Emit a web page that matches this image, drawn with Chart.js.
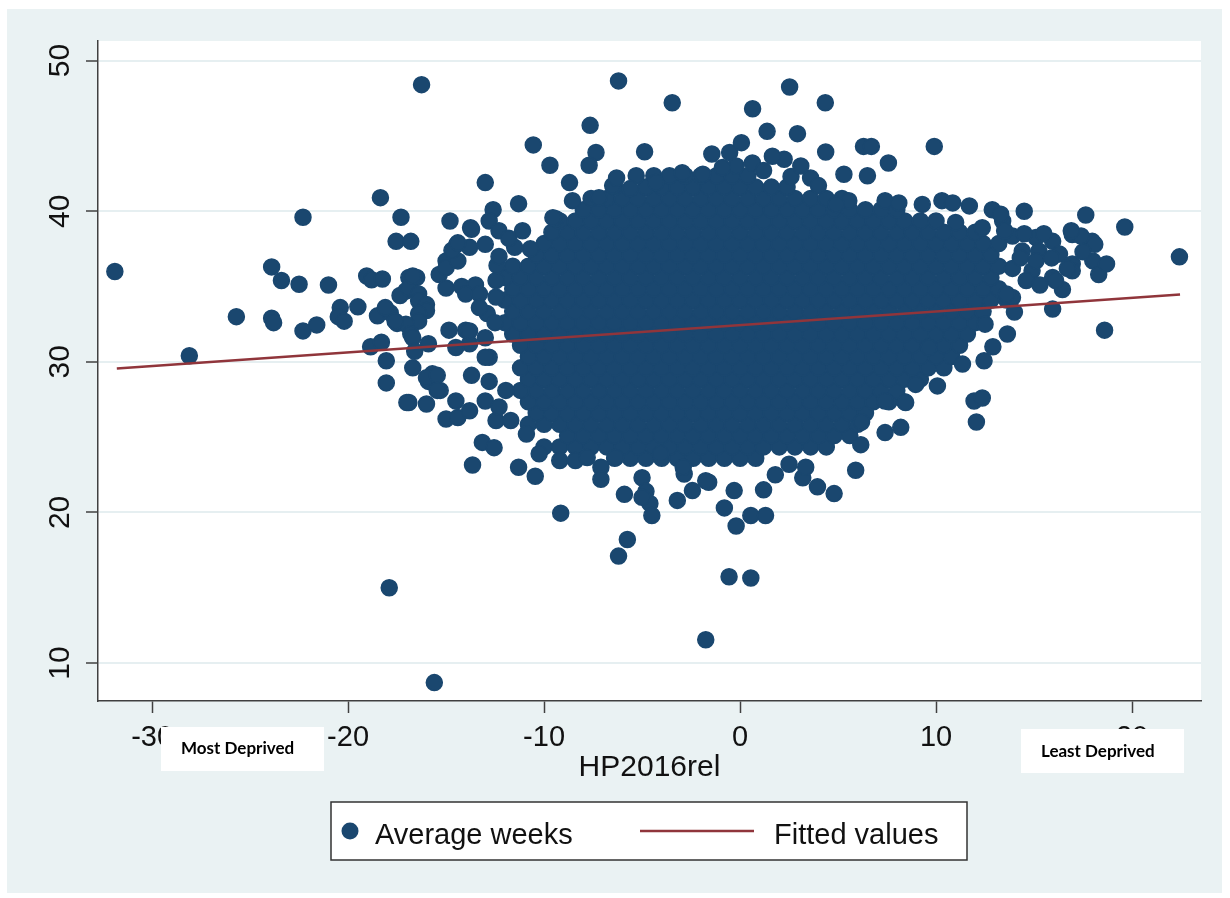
<!DOCTYPE html>
<html>
<head>
<meta charset="utf-8">
<script src="https://cdn.jsdelivr.net/npm/chart.js@4/dist/chart.umd.min.js"></script>
<style>
  html, body { margin: 0; padding: 0; background: #fff; }
  #wrap { width: 1230px; height: 898px; }
</style>
</head>
<body>
<div id="wrap"><canvas id="chart" width="1230" height="898"></canvas></div>
<script>
const navy = '#1a476f'
const maroon = '#90353b'

const xTicks = [-30, -20, -10, 0, 10, 20]
const yTicks = [10, 20, 30, 40, 50]

// scattered points round the cloud, [HP2016rel, average weeks]
const edgePoints = [
  [-31.9, 36.0], [-28.1, 30.4], [-25.7, 33.0], [-23.9, 36.3], [-23.4, 35.4], [-23.9, 32.9], [-23.8, 32.6],
  [-22.3, 39.6], [-22.5, 35.15], [-22.3, 32.05], [-21.6, 32.45], [-21.0, 35.1], [-20.4, 33.6], [-20.5, 33.0],
  [-20.2, 32.7], [-19.5, 33.65], [-19.05, 35.7], [-18.8, 35.45], [-18.35, 40.9], [-18.85, 31.0], [-18.3, 31.3],
  [-18.05, 30.07], [-18.05, 28.6], [-18.5, 33.05], [-17.85, 33.25], [-17.5, 32.55], [-17.3, 39.6], [-17.55, 38.0],
  [-16.8, 38.0], [-16.9, 27.3], [-16.9, 35.6], [-16.5, 35.6], [-16.25, 48.4], [-14.8, 39.35], [-13.0, 41.9],
  [-11.3, 40.5], [-10.55, 44.4], [-9.7, 43.05], [-8.7, 41.9], [-7.65, 45.7], [-7.35, 43.9], [-7.7, 43.05],
  [-6.2, 48.65], [-9.4, 39.5], [-13.75, 38.9], [-12.6, 40.1], [-14.45, 37.8],
  // left side of the cloud
  [-18.25, 35.5], [-18.1, 33.6], [-17.05, 34.7], [-17.35, 34.4], [-16.9, 34.9], [-16.4, 34.5], [-16.4, 34.05],
  [-16.0, 33.8], [-16.0, 33.4], [-16.4, 33.2], [-16.4, 32.7], [-17.05, 32.5], [-17.6, 32.7], [-16.8, 31.85],
  [-16.7, 31.6], [-16.6, 30.7], [-16.7, 29.6], [-15.9, 31.2], [-15.9, 28.7], [-15.3, 28.1], [-15.7, 29.2],
  [-16.0, 28.95], [-15.45, 29.1], [-17.0, 27.3], [-16.0, 27.2], [-15.45, 28.1], [-15.0, 26.2], [-14.4, 26.3],
  [-14.5, 27.4], [-13.8, 26.75], [-13.7, 29.1], [-13.15, 24.65], [-12.55, 24.3], [-13.65, 23.15], [-13.0, 27.4],
  [-12.45, 26.1], [-11.7, 26.1], [-12.3, 27.0], [-11.95, 28.1], [-12.8, 30.3], [-12.8, 28.7], [-13.0, 30.3],
  [-13.0, 31.6], [-13.8, 31.2], [-14.5, 30.95], [-14.0, 32.1], [-14.85, 32.1], [-13.8, 32.05],
  [-15.0, 36.7], [-15.35, 35.8], [-16.7, 35.7], [-15.0, 36.25], [-14.4, 36.7], [-15.0, 34.9], [-14.2, 35.0],
  [-13.5, 35.1], [-14.0, 34.5], [-13.3, 34.5], [-12.45, 34.3], [-12.45, 35.4], [-12.4, 36.4], [-12.3, 37.0],
  [-14.7, 37.4], [-13.8, 37.6], [-13.0, 37.8], [-14.4, 37.9], [-13.7, 38.8], [-12.8, 39.35], [-12.3, 38.7],
  [-11.1, 38.7], [-10.7, 37.5], [-11.5, 37.6], [-11.8, 38.2], [-12.9, 33.2], [-12.5, 32.6], [-13.3, 33.6],
  // lower edge
  [-11.3, 23.0], [-10.9, 25.2], [-10.45, 22.4], [-10.25, 23.9], [-9.2, 23.45], [-8.4, 23.45], [-7.8, 23.65],
  [-9.15, 19.95], [-7.1, 23.0], [-7.1, 22.2], [-6.35, 23.65], [-5.9, 21.2], [-5.0, 22.3], [-4.8, 21.4],
  [-4.6, 20.6], [-4.5, 19.8], [-5.75, 18.2], [-6.2, 17.1], [-17.9, 15.0], [-15.6, 8.7], [-0.56, 15.73],
  [-3.2, 20.8], [-2.85, 22.55], [-2.43, 21.45], [-1.6, 22.0], [-0.8, 20.3], [-0.3, 21.45], [-0.2, 19.1],
  [-4.05, 23.9], [-1.75, 11.55], [-1.75, 22.1], [-2.9, 23.0], [-5.0, 21.0],
  [12.45, 30.07], [10.07, 28.4], [8.96, 28.5], [11.35, 29.85], [11.94, 27.4], [12.36, 27.6], [12.06, 26.0],
  [8.2, 25.65], [7.4, 25.3], [6.16, 24.5], [5.9, 22.8], [4.8, 21.25], [3.95, 21.7], [0.55, 19.8], [1.3, 19.8],
  [0.55, 15.65], [1.8, 22.5], [3.2, 22.3], [1.2, 21.5], [7.4, 27.4], [8.45, 27.3], [6.2, 26.0], [2.5, 23.2],
  [3.35, 23.0], [9.64, 30.95],
  // upper edge and top outliers
  [-3.46, 47.2], [2.53, 48.25], [0.64, 46.8], [4.35, 47.2], [1.38, 45.3], [2.93, 45.15], [-4.87, 43.95],
  [4.37, 43.93], [6.3, 44.3], [6.7, 44.3], [9.91, 44.3], [7.57, 43.2], [-1.44, 43.8], [-0.53, 43.9], [0.07, 44.55],
  [-9.55, 39.57], [-8.55, 40.7], [-7.2, 40.9], [-6.5, 41.7], [-5.3, 42.35], [-4.3, 41.9], [-2.95, 42.55],
  [-1.9, 42.45], [-0.2, 43.0], [-6.3, 42.2], [-5.6, 41.5],
  [5.3, 42.45], [6.5, 42.35], [3.6, 42.2], [2.25, 43.45], [0.63, 43.2], [1.65, 43.65], [4.0, 41.7], [5.55, 40.7],
  [4.9, 40.45], [7.4, 40.7], [8.1, 40.55], [9.3, 40.45], [10.3, 40.7], [10.85, 40.55], [11.7, 40.35],
  [12.87, 40.1], [13.4, 39.35], [14.5, 40.0], [17.64, 39.75], [12.36, 38.9], [11.0, 39.25], [2.6, 42.3],
  [1.2, 42.7], [-0.9, 42.9], [3.1, 43.0],
  // right tail
  [13.9, 38.35], [15.1, 38.25], [15.95, 38.0], [16.95, 38.45], [17.97, 38.0], [14.4, 37.35], [15.25, 37.35],
  [16.3, 37.15], [16.95, 36.5], [18.0, 36.7], [14.9, 36.05], [15.95, 35.6], [16.95, 36.05], [16.45, 34.8],
  [13.9, 34.27], [15.95, 33.5], [13.64, 31.85], [18.3, 35.8], [18.6, 32.1], [19.63, 38.95], [22.42, 36.97],
  [18.7, 36.5], [18.1, 37.8], [17.4, 38.35], [13.5, 38.7], [14.5, 38.5], [15.5, 38.5], [16.9, 38.7],
  [13.9, 36.2], [15.1, 36.7], [15.9, 36.9], [16.7, 36.2], [13.3, 39.8], [16.1, 35.4], [13.6, 34.5],
  [14.3, 36.9], [14.6, 35.4], [15.3, 35.1], [17.5, 37.3], [14.0, 33.3], [12.5, 32.5], [12.9, 31.0]
]

// the solid middle of the cloud, read row by row (y value, then x values)
const coreRowY = [23.6, 24.35, 25.1, 25.85, 26.6, 27.35, 28.1, 28.85, 29.6, 30.35, 31.1, 31.85, 32.6,
  33.35, 34.1, 34.85, 35.6, 36.35, 37.1, 37.85, 38.6, 39.35, 40.1, 40.85, 41.6, 42.35]
const coreRowX = [
  [-6.4, -5.6, -4.8, -4.0, -3.2, -2.4, -1.6, -0.8, 0, 0.8],
  [-10.0, -9.2, -8.4, -7.6, -6.8, -6.0, -5.2, -4.4, -3.6, -2.8, -2.0, -1.2, -0.4, 0.4, 1.2, 2.0, 2.8, 3.6, 4.4],
  [-8.8, -8.0, -7.2, -6.4, -5.6, -4.8, -4.0, -3.2, -2.4, -1.6, -0.8, 0, 0.8, 1.6, 2.4, 3.2, 4.0, 4.8, 5.6],
  [-10.8, -10.0, -9.2, -8.4, -7.6, -6.8, -6.0, -5.2, -4.4, -3.6, -2.8, -2.0, -1.2, -0.4, 0.4, 1.2, 2.0, 2.8, 3.6, 4.4, 5.2, 6.0],
  [-10.4, -9.6, -8.8, -8.0, -7.2, -6.4, -5.6, -4.8, -4.0, -3.2, -2.4, -1.6, -0.8, 0, 0.8, 1.6, 2.4, 3.2, 4.0, 4.8, 5.6, 6.4],
  [-10.8, -10.0, -9.2, -8.4, -7.6, -6.8, -6.0, -5.2, -4.4, -3.6, -2.8, -2.0, -1.2, -0.4, 0.4, 1.2, 2.0, 2.8, 3.6, 4.4, 5.2, 6.0, 6.8, 7.6, 8.4],
  [-11.2, -10.4, -9.6, -8.8, -8.0, -7.2, -6.4, -5.6, -4.8, -4.0, -3.2, -2.4, -1.6, -0.8, 0, 0.8, 1.6, 2.4, 3.2, 4.0, 4.8, 5.6, 6.4, 7.2, 8.0],
  [-10.8, -10.0, -9.2, -8.4, -7.6, -6.8, -6.0, -5.2, -4.4, -3.6, -2.8, -2.0, -1.2, -0.4, 0.4, 1.2, 2.0, 2.8, 3.6, 4.4, 5.2, 6.0, 6.8, 7.6, 8.4, 9.2],
  [-11.2, -10.4, -9.6, -8.8, -8.0, -7.2, -6.4, -5.6, -4.8, -4.0, -3.2, -2.4, -1.6, -0.8, 0, 0.8, 1.6, 2.4, 3.2, 4.0, 4.8, 5.6, 6.4, 7.2, 8.0, 8.8, 9.6, 10.4],
  [-10.8, -10.0, -9.2, -8.4, -7.6, -6.8, -6.0, -5.2, -4.4, -3.6, -2.8, -2.0, -1.2, -0.4, 0.4, 1.2, 2.0, 2.8, 3.6, 4.4, 5.2, 6.0, 6.8, 7.6, 8.4, 9.2, 10.0, 10.8],
  [-11.2, -10.4, -9.6, -8.8, -8.0, -7.2, -6.4, -5.6, -4.8, -4.0, -3.2, -2.4, -1.6, -0.8, 0, 0.8, 1.6, 2.4, 3.2, 4.0, 4.8, 5.6, 6.4, 7.2, 8.0, 8.8, 9.6, 10.4, 11.2],
  [-11.6, -10.8, -10.0, -9.2, -8.4, -7.6, -6.8, -6.0, -5.2, -4.4, -3.6, -2.8, -2.0, -1.2, -0.4, 0.4, 1.2, 2.0, 2.8, 3.6, 4.4, 5.2, 6.0, 6.8, 7.6, 8.4, 9.2, 10.0, 10.8, 11.6],
  [-12.0, -11.2, -10.4, -9.6, -8.8, -8.0, -7.2, -6.4, -5.6, -4.8, -4.0, -3.2, -2.4, -1.6, -0.8, 0, 0.8, 1.6, 2.4, 3.2, 4.0, 4.8, 5.6, 6.4, 7.2, 8.0, 8.8, 9.6, 10.4, 11.2, 12.0],
  [-11.6, -10.8, -10.0, -9.2, -8.4, -7.6, -6.8, -6.0, -5.2, -4.4, -3.6, -2.8, -2.0, -1.2, -0.4, 0.4, 1.2, 2.0, 2.8, 3.6, 4.4, 5.2, 6.0, 6.8, 7.6, 8.4, 9.2, 10.0, 10.8, 11.6, 12.4],
  [-12.0, -11.2, -10.4, -9.6, -8.8, -8.0, -7.2, -6.4, -5.6, -4.8, -4.0, -3.2, -2.4, -1.6, -0.8, 0, 0.8, 1.6, 2.4, 3.2, 4.0, 4.8, 5.6, 6.4, 7.2, 8.0, 8.8, 9.6, 10.4, 11.2, 12.0, 12.8, 13.6],
  [-11.6, -10.8, -10.0, -9.2, -8.4, -7.6, -6.8, -6.0, -5.2, -4.4, -3.6, -2.8, -2.0, -1.2, -0.4, 0.4, 1.2, 2.0, 2.8, 3.6, 4.4, 5.2, 6.0, 6.8, 7.6, 8.4, 9.2, 10.0, 10.8, 11.6, 12.4, 13.2],
  [-12.0, -11.2, -10.4, -9.6, -8.8, -8.0, -7.2, -6.4, -5.6, -4.8, -4.0, -3.2, -2.4, -1.6, -0.8, 0, 0.8, 1.6, 2.4, 3.2, 4.0, 4.8, 5.6, 6.4, 7.2, 8.0, 8.8, 9.6, 10.4, 11.2, 12.0, 12.8],
  [-11.6, -10.8, -10.0, -9.2, -8.4, -7.6, -6.8, -6.0, -5.2, -4.4, -3.6, -2.8, -2.0, -1.2, -0.4, 0.4, 1.2, 2.0, 2.8, 3.6, 4.4, 5.2, 6.0, 6.8, 7.6, 8.4, 9.2, 10.0, 10.8, 11.6, 12.4, 13.2],
  [-10.4, -9.6, -8.8, -8.0, -7.2, -6.4, -5.6, -4.8, -4.0, -3.2, -2.4, -1.6, -0.8, 0, 0.8, 1.6, 2.4, 3.2, 4.0, 4.8, 5.6, 6.4, 7.2, 8.0, 8.8, 9.6, 10.4, 11.2, 12.0, 12.8],
  [-10.0, -9.2, -8.4, -7.6, -6.8, -6.0, -5.2, -4.4, -3.6, -2.8, -2.0, -1.2, -0.4, 0.4, 1.2, 2.0, 2.8, 3.6, 4.4, 5.2, 6.0, 6.8, 7.6, 8.4, 9.2, 10.0, 10.8, 11.6, 12.4, 13.2],
  [-9.6, -8.8, -8.0, -7.2, -6.4, -5.6, -4.8, -4.0, -3.2, -2.4, -1.6, -0.8, 0, 0.8, 1.6, 2.4, 3.2, 4.0, 4.8, 5.6, 6.4, 7.2, 8.0, 8.8, 9.6, 10.4, 11.2, 12.0],
  [-9.2, -8.4, -7.6, -6.8, -6.0, -5.2, -4.4, -3.6, -2.8, -2.0, -1.2, -0.4, 0.4, 1.2, 2.0, 2.8, 3.6, 4.4, 5.2, 6.0, 6.8, 7.6, 8.4, 9.2, 10.0],
  [-8.0, -7.2, -6.4, -5.6, -4.8, -4.0, -3.2, -2.4, -1.6, -0.8, 0, 0.8, 1.6, 2.4, 3.2, 4.0, 4.8, 5.6, 6.4, 7.2, 8.0],
  [-7.6, -6.8, -6.0, -5.2, -4.4, -3.6, -2.8, -2.0, -1.2, -0.4, 0.4, 1.2, 2.0, 2.8, 3.6, 4.4, 5.2],
  [-6.4, -4.8, -4.0, -3.2, -2.4, -1.6, -0.8, 0, 0.8, 1.6, 2.4],
  [-4.4, -3.6, -2.8, -2.0, -1.2, -0.4, 0.4]
]

// linear fit, end points
const fitX = [-31.8, 22.45]
const fitY = [29.55, 34.47]

const scatterPoints = []
coreRowY.forEach((y, i) => coreRowX[i].forEach(x => scatterPoints.push({x, y})))
edgePoints.forEach(([x, y]) => scatterPoints.push({x, y}))

const fitPoints = fitX.map((x, i) => ({x, y: fitY[i]}))

const textFont = '"Liberation Sans", Arial, sans-serif'

// Stata style backdrop: bluish frame, white plot region
const backdrop = {
  id: 'backdrop',
  beforeDraw(chart) {
    const {ctx, chartArea: a} = chart
    ctx.save()
    ctx.fillStyle = '#ffffff'
    ctx.fillRect(0, 0, chart.width, chart.height)
    ctx.fillStyle = '#eaf2f3'
    ctx.fillRect(7, 9, 1215, 884)
    ctx.fillStyle = '#ffffff'
    ctx.fillRect(a.left, a.top, a.right - a.left, a.bottom - a.top)
    ctx.restore()
  }
}

// legend box and the two pasted labels under the axis
const overlays = {
  id: 'overlays',
  afterDraw(chart) {
    const ctx = chart.ctx
    const sets = chart.data.datasets
    ctx.save()

    ctx.fillStyle = '#ffffff'
    ctx.fillRect(161, 727, 163, 44)
    ctx.fillRect(1021, 729, 163, 44)
    ctx.fillStyle = '#000000'
    ctx.font = 'bold 17px Lato, "Open Sans", sans-serif'
    ctx.textBaseline = 'alphabetic'
    ctx.fillText('Most Deprived', 181, 754)
    ctx.fillText('Least Deprived', 1041, 757)

    ctx.fillStyle = '#ffffff'
    ctx.fillRect(331, 802, 636, 58)
    ctx.strokeStyle = '#333333'
    ctx.lineWidth = 1.5
    ctx.strokeRect(331, 802, 636, 58)

    ctx.fillStyle = sets[0].backgroundColor
    ctx.beginPath()
    ctx.arc(350, 831, 8.5, 0, Math.PI * 2)
    ctx.fill()

    ctx.strokeStyle = sets[1].borderColor
    ctx.lineWidth = 2.5
    ctx.beginPath()
    ctx.moveTo(640, 831)
    ctx.lineTo(754, 831)
    ctx.stroke()

    ctx.fillStyle = '#111111'
    ctx.font = '29px ' + textFont
    ctx.fillText(sets[0].label, 375, 844)
    ctx.fillText(sets[1].label, 774, 844)
    ctx.restore()
  }
}

new Chart(document.getElementById('chart'), {
  type: 'scatter',
  data: {
    datasets: [
      {
        label: 'Average weeks',
        data: scatterPoints,
        backgroundColor: navy,
        borderColor: navy,
        pointRadius: 8,
        borderWidth: 1.5,
        order: 1
      },
      {
        label: 'Fitted values',
        data: fitPoints,
        showLine: true,
        borderColor: maroon,
        backgroundColor: maroon,
        borderWidth: 2.5,
        pointRadius: 0,
        order: 0
      }
    ]
  },
  options: {
    responsive: false,
    animation: false,
    events: [],
    layout: { padding: { top: 41, right: 29, bottom: 0, left: 0 } },
    plugins: {
      legend: { display: false },
      tooltip: { enabled: false }
    },
    scales: {
      x: {
        type: 'linear',
        min: -32.76,
        max: 23.52,
        afterBuildTicks: s => { s.ticks = xTicks.map(v => ({value: v})) },
        afterFit: s => { s.height = 197 },
        grid: { display: true, drawOnChartArea: false, tickLength: 12, tickColor: '#404040', tickWidth: 1.5 },
        border: { display: true, color: '#404040', width: 1.5 },
        ticks: { font: { family: textFont, size: 29 }, color: '#111111', padding: 8, maxRotation: 0, includeBounds: false },
        title: {
          display: true,
          text: 'HP2016rel',
          color: '#111111',
          font: { family: textFont, size: 30 },
          padding: { top: 0, bottom: 112 }
        }
      },
      y: {
        type: 'linear',
        min: 7.48,
        max: 51.3,
        afterBuildTicks: s => { s.ticks = yTicks.map(v => ({value: v})) },
        afterFit: s => { s.width = 98 },
        grid: { color: '#e6eff1', lineWidth: 2, tickLength: 12, tickColor: '#404040', tickWidth: 1.5 },
        border: { display: true, color: '#404040', width: 1.5 },
        ticks: {
          font: { family: textFont, size: 30 },
          color: '#111111',
          padding: 9,
          minRotation: 90,
          maxRotation: 90,
          crossAlign: 'center',
          includeBounds: false
        }
      }
    }
  },
  plugins: [backdrop, overlays]
})
</script>
</body>
</html>
